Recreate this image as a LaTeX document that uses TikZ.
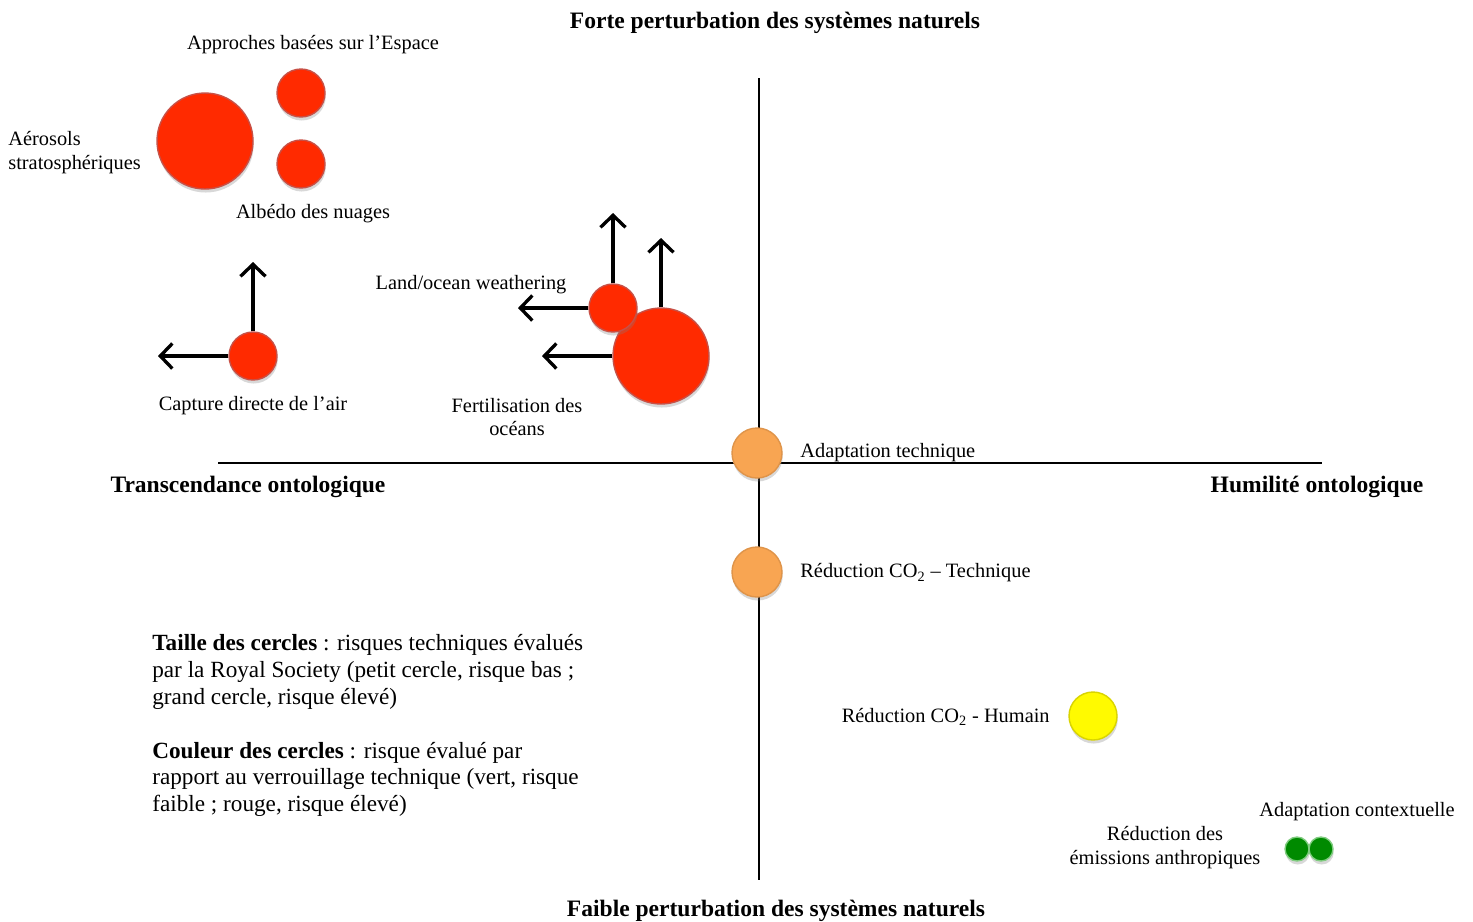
\documentclass[tikz,border=0pt]{standalone}
\usepackage{fontspec}
\setmainfont{Liberation Serif}
\usepackage{tikz}
\usetikzlibrary{arrows.meta, positioning, shadows}
\definecolor{riskred}{RGB}{255,42,0}
\definecolor{riskorange}{RGB}{248,165,82}
\definecolor{riskyellow}{RGB}{255,250,0}
\definecolor{riskgreen}{RGB}{0,138,0}
\definecolor{edgered}{RGB}{200,80,70}

\tikzset{
  bubble/.style={circle, inner sep=0pt, line width=0.8pt,
    drop shadow={shadow xshift=0.4pt, shadow yshift=-2pt, opacity=0.3}},
  bigred/.style={bubble, draw=edgered, fill=riskred, minimum size=1.92cm},
  smallred/.style={bubble, draw=edgered, fill=riskred, minimum size=0.96cm},
  orangedot/.style={bubble, draw=riskorange!90!black, fill=riskorange, minimum size=1.0cm},
  yellowdot/.style={bubble, draw=riskyellow!85!black, fill=riskyellow, minimum size=0.96cm},
  greendot/.style={bubble, draw=green!60!black!50, fill=riskgreen, minimum size=0.48cm},
  lbl/.style={font=\fontsize{11.6}{13.6}\selectfont, inner sep=0pt},
  axislbl/.style={font=\fontsize{13.4}{15}\selectfont\bfseries, inner sep=0pt},
  shiftarrow/.style={-{Straight Barb[length=2.4mm, width=5mm]}, line width=1.9pt},
}

\begin{document}
\begin{tikzpicture}[x=0.02cm, y=-0.02cm]
  \useasboundingbox[fill=white] (0,0) rectangle (1473,921);

  % axes
  \coordinate (ntop) at (759,78);
  \coordinate (nbot) at (759,880);
  \coordinate (wleft) at (218,463);
  \coordinate (wright) at (1322,463);
  \draw[line width=1pt] (ntop) -- (nbot);
  \draw[line width=1pt] (wleft) -- (wright);

  \node[axislbl] (forte) at (775,23) {Forte perturbation des systèmes naturels};
  \node[axislbl] (faible) at (776,911) {Faible perturbation des systèmes naturels};
  \node[axislbl] (transc) at (248,487) {Transcendance ontologique};
  \node[axislbl] (humil) at (1317,487) {Humilité ontologique};

  % solar geoengineering
  \node[bigred] (aero) at (205,141) {};
  \node[smallred] (espace) at (301,93) {};
  \node[smallred] (albedo) at (301,164) {};
  \node[lbl] (espacelbl) at (313,45) {Approches basées sur l’Espace};
  \node[lbl, anchor=west, align=left] (aerolbl) at (8,153) {Aérosols\\stratosphériques};
  \node[lbl] (albedolbl) at (313,214) {Albédo des nuages};

  % carbon removal
  \node[smallred] (capture) at (253,356) {};
  \coordinate (captureup) at (253,262);
  \coordinate (captureleft) at (158,356);
  \draw[shiftarrow] (capture.north) -- (captureup);
  \draw[shiftarrow] (capture.west) -- (captureleft);
  \node[lbl] (capturelbl) at (253,406) {Capture directe de l’air};

  \node[bigred] (fertil) at (661,356) {};
  \node[smallred] (weather) at (613,308) {};
  \coordinate (weatherup) at (613,213);
  \coordinate (weatherleft) at (518,308);
  \coordinate (fertilup) at (661,238);
  \coordinate (fertilleft) at (542,356);
  \draw[shiftarrow] (weather.north) -- (weatherup);
  \draw[shiftarrow] (weather.west) -- (weatherleft);
  \draw[shiftarrow] (fertil.north) -- (fertilup);
  \draw[shiftarrow] (fertil.west) -- (fertilleft);
  \node[lbl] (weatherlbl) at (471,285) {Land/ocean weathering};
  \node[lbl, align=center] (fertillbl) at (517,417) {Fertilisation des\\océans};

  % technical
  \node[orangedot] (adapt) at (757,453) {};
  \node[lbl, anchor=west] (adaptlbl) at (800,453) {Adaptation technique};
  \node[orangedot] (redtech) at (757,572) {};
  \node[lbl, anchor=west] (redtechlbl) at (800,573) {Réduction CO\textsubscript{2} – Technique};

  % human
  \node[yellowdot] (redhum) at (1093,716) {};
  \node[lbl, anchor=east] (redhumlbl) at (1050,717) {Réduction CO\textsubscript{2} - Humain};
  \node[greendot] (emis) at (1297,849) {};
  \node[greendot] (context) at (1321,849) {};
  \node[lbl] (contextlbl) at (1357,812) {Adaptation contextuelle};
  \node[lbl, align=center] (emislbl) at (1165,848) {Réduction des\\émissions anthropiques};

  % legend
  \node[anchor=north west, align=left, inner sep=0pt,
    font=\fontsize{13.2}{15.3}\selectfont] (legend) at (152,634)
    {\textbf{Taille des cercles} : risques techniques évalués\\
     par la Royal Society (petit cercle, risque bas ;\\
     grand cercle, risque élevé)\\[15.3pt]
     \textbf{Couleur des cercles} : risque évalué par\\
     rapport au verrouillage technique (vert, risque\\
     faible ; rouge, risque élevé)};
\end{tikzpicture}
\end{document}
